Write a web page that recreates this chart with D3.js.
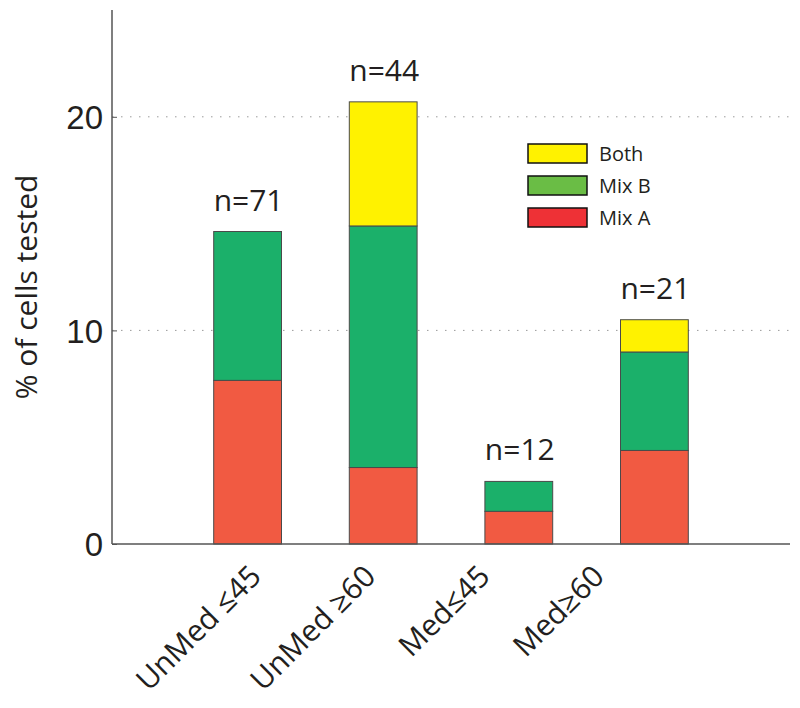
<!DOCTYPE html>
<html>
<head>
<meta charset="utf-8">
<script src="https://cdn.jsdelivr.net/npm/d3@7"></script>
<style>
  body { margin: 0; background: #fff; }
  text { fill: #231f20; }
</style>
</head>
<body>
<div id="chart"></div>
<script>
// stacked bars, % of cells responding per group
var categories = ["UnMed \u226445", "UnMed \u226560", "Med\u226445", "Med\u226560"];
var nLabels = ["n=71", "n=44", "n=12", "n=21"];
var mixA = [7.66, 3.58, 1.53, 4.38];
var mixB = [6.97, 11.31, 1.40, 4.61];
var both = [0, 5.81, 0, 1.51];
var yTicks = [0, 10, 20];
var seriesNames = ["Mix A", "Mix B", "Both"];
var barColors = ["#f15a42", "#1bb06a", "#fff200"];
var legendColors = ["#ee3136", "#6abd45", "#fff200"];

var width = 800, height = 708;

var svg = d3.select("#chart").append("svg")
	.attr("width", width)
	.attr("height", height);

var x = d3.scaleLinear().domain([0, 5]).range([112, 790]);
var y = d3.scaleLinear().domain([0, 25]).range([544, 10]);
// rotated labels sit on their own, tighter spacing
var xLab = d3.scalePoint().domain(categories).range([263, 606]);

var rows = categories.map(function(c, i) {
	return {cat: c, i: i, "Mix A": mixA[i], "Mix B": mixB[i], "Both": both[i]};
});
var stacked = d3.stack().keys(seriesNames)(rows);

// dotted grid
svg.append("g")
	.selectAll("line")
	.data(yTicks.filter(function(d) { return d > 0; }))
	.enter().append("line")
		.attr("x1", x(0)).attr("x2", x(5))
		.attr("y1", function(d) { return y(d); })
		.attr("y2", function(d) { return y(d); })
		.attr("stroke", "#9a9a9a")
		.attr("stroke-width", 1)
		.attr("stroke-dasharray", "1.5,7.5");

var bw = x(0.5) - x(0);
svg.append("g")
	.selectAll("g")
	.data(stacked)
	.enter().append("g")
		.attr("fill", function(d, k) { return barColors[k]; })
	.selectAll("rect")
	.data(function(d) { return d.filter(function(s) { return s[1] - s[0] > 0; }); })
	.enter().append("rect")
		.attr("x", function(d) { return x(d.data.i + 1) - bw / 2; })
		.attr("width", bw)
		.attr("y", function(d) { return y(d[1]); })
		.attr("height", function(d) { return y(d[0]) - y(d[1]); })
		.attr("stroke", "#4a4a4a")
		.attr("stroke-width", 1);

// n= labels above bars
var totals = rows.map(function(r) { return r["Mix A"] + r["Mix B"] + r["Both"]; });
svg.append("g")
	.selectAll("text")
	.data(nLabels)
	.enter().append("text")
		.attr("x", function(d, i) { return x(i + 1) + 1; })
		.attr("y", function(d, i) { return y(totals[i]) - 21; })
		.attr("text-anchor", "middle")
		.style("font-family", "'Open Sans', sans-serif")
		.style("font-size", "30px")
		.text(function(d) { return d; });

// axes
var yAxis = d3.axisLeft(y).tickValues(yTicks).tickSize(-5).tickPadding(9);
var gy = svg.append("g")
	.attr("transform", "translate(" + x(0) + ",0)")
	.call(yAxis);
gy.select(".domain").attr("d", "M0," + y(25) + "V" + y(0)).attr("stroke", "#555").attr("stroke-width", 1.5);
gy.selectAll(".tick line").attr("stroke", "#555");
gy.selectAll(".tick text")
	.style("font-family", "'Liberation Sans', Arial, sans-serif")
	.style("font-size", "33px")
	.attr("dy", "0.36em")
	.attr("fill", "#231f20");

svg.append("line")
	.attr("x1", x(0)).attr("x2", x(5))
	.attr("y1", y(0)).attr("y2", y(0))
	.attr("stroke", "#555")
	.attr("stroke-width", 1.5);

svg.append("g")
	.selectAll("text")
	.data(categories)
	.enter().append("text")
		.attr("transform", function(d) { return "translate(" + xLab(d) + ",578) rotate(-45)"; })
		.attr("text-anchor", "end")
		.style("font-family", "'Open Sans', sans-serif")
		.style("font-size", "30px")
		.text(function(d) { return d; });

svg.append("text")
	.attr("transform", "translate(37,287) rotate(-90)")
	.attr("text-anchor", "middle")
	.style("font-family", "'Open Sans', sans-serif")
	.style("font-size", "30px")
	.text("% of cells tested");

// legend, Both on top
var legend = svg.append("g").attr("transform", "translate(528,144)");
var legOrder = [2, 1, 0];
legOrder.forEach(function(k, j) {
	legend.append("rect")
		.attr("x", 0).attr("y", j * 32)
		.attr("width", 59).attr("height", 19)
		.attr("fill", legendColors[k])
		.attr("stroke", "#111")
		.attr("stroke-width", 1.5);
	legend.append("text")
		.attr("x", 71).attr("y", j * 32 + 17)
		.style("font-family", "'Open Sans', sans-serif")
		.style("font-size", "20px")
		.text(seriesNames[k]);
});
</script>
</body>
</html>
